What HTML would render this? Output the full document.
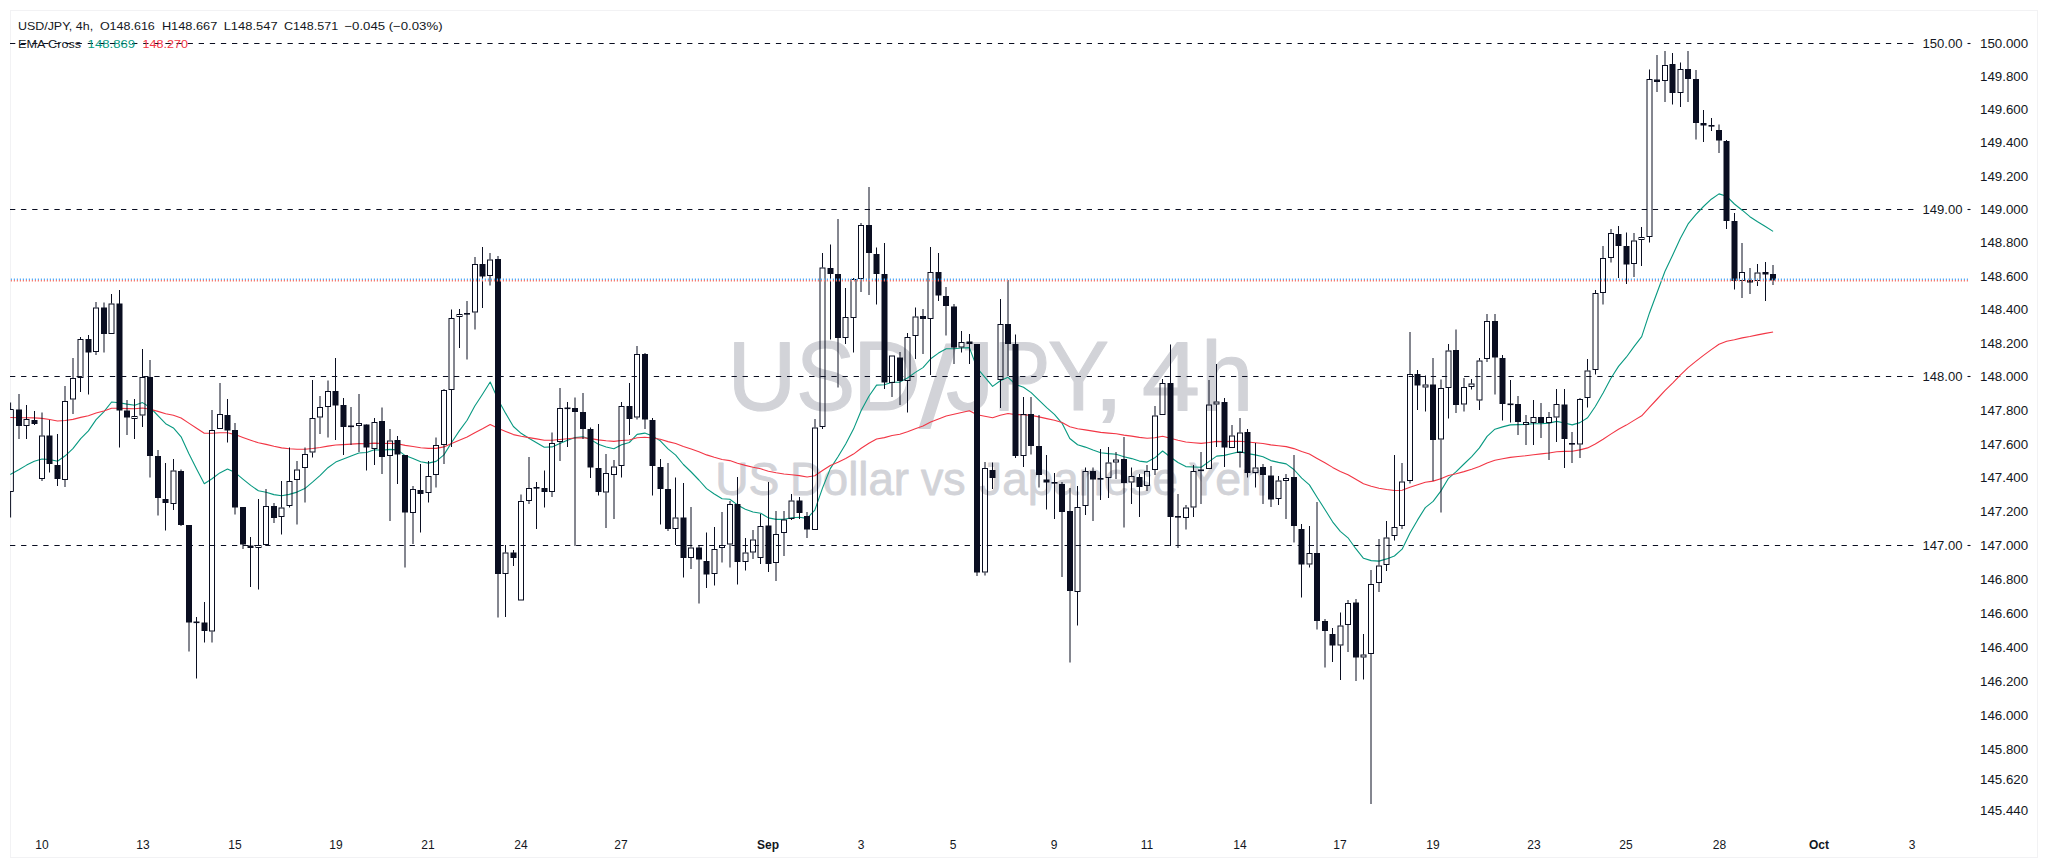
<!DOCTYPE html>
<html lang="en"><head><meta charset="utf-8"><title>USD/JPY 4h chart</title>
<style>html,body{margin:0;padding:0;background:#fff;}body{width:2048px;height:868px;overflow:hidden;}svg{display:block;}text{font-family:"Liberation Sans", Arial, Helvetica, sans-serif;}</style>
</head><body>
<svg width="2048" height="868" viewBox="0 0 2048 868">
<rect x="0" y="0" width="2048" height="868" fill="#ffffff"/>
<rect x="10.5" y="10.5" width="2027" height="847" fill="none" stroke="#f2f2f4" stroke-width="1"/>
<g fill="#d2d3d8" stroke="#d2d3d8" stroke-linejoin="round">
<text font-size="98.2" stroke-width="1.1" xml:space="preserve"><tspan x="727.35" y="410.2" textLength="69.43" lengthAdjust="spacingAndGlyphs">U</tspan><tspan x="795.89" y="410.2" textLength="59.18" lengthAdjust="spacingAndGlyphs">S</tspan><tspan x="853.11" y="410.2" textLength="68.16" lengthAdjust="spacingAndGlyphs">D</tspan><tspan x="919.17" y="427.2" font-size="115.3" textLength="37.35" lengthAdjust="spacingAndGlyphs">/</tspan><tspan x="946.01" y="410.2" textLength="48.49" lengthAdjust="spacingAndGlyphs">J</tspan><tspan x="992.97" y="410.2" textLength="57.59" lengthAdjust="spacingAndGlyphs">P</tspan><tspan x="1047.63" y="410.2" textLength="61.38" lengthAdjust="spacingAndGlyphs">Y</tspan><tspan x="1093.14" y="410.2" textLength="31.25" lengthAdjust="spacingAndGlyphs">,</tspan> <tspan x="1141.76" y="410.2" textLength="58.32" lengthAdjust="spacingAndGlyphs">4</tspan><tspan x="1200.71" y="410.2" textLength="52.70" lengthAdjust="spacingAndGlyphs">h</tspan></text>
<text font-size="46.8" stroke-width="0.8" xml:space="preserve"><tspan x="715.14" y="494.7" textLength="64.25" lengthAdjust="spacingAndGlyphs">US</tspan> <tspan x="789.88" y="494.7" textLength="119.15" lengthAdjust="spacingAndGlyphs">Dollar</tspan> <tspan x="920.90" y="494.7" textLength="44.66" lengthAdjust="spacingAndGlyphs">vs</tspan> <tspan x="979.30" y="494.7" textLength="198.63" lengthAdjust="spacingAndGlyphs">Japanese</tspan> <tspan x="1188.41" y="494.7" textLength="78.57" lengthAdjust="spacingAndGlyphs">Yen</tspan></text>
</g>
<line x1="10" y1="43.50" x2="1916.5" y2="43.50" stroke="#0a0e21" stroke-width="1.15" stroke-dasharray="5.3 5.8"/>
<line x1="1967.5" y1="43.50" x2="1970.5" y2="43.50" stroke="#0a0e21" stroke-width="1.1"/>
<text x="1962.5" y="47.90" font-size="12" text-anchor="end" fill="#131722" textLength="40" lengthAdjust="spacingAndGlyphs">150.00</text>
<line x1="10" y1="209.50" x2="1916.5" y2="209.50" stroke="#0a0e21" stroke-width="1.15" stroke-dasharray="5.3 5.8"/>
<line x1="1967.5" y1="209.50" x2="1970.5" y2="209.50" stroke="#0a0e21" stroke-width="1.1"/>
<text x="1962.5" y="213.90" font-size="12" text-anchor="end" fill="#131722" textLength="40" lengthAdjust="spacingAndGlyphs">149.00</text>
<line x1="10" y1="376.50" x2="1916.5" y2="376.50" stroke="#0a0e21" stroke-width="1.15" stroke-dasharray="5.3 5.8"/>
<line x1="1967.5" y1="376.50" x2="1970.5" y2="376.50" stroke="#0a0e21" stroke-width="1.1"/>
<text x="1962.5" y="380.90" font-size="12" text-anchor="end" fill="#131722" textLength="40" lengthAdjust="spacingAndGlyphs">148.00</text>
<line x1="10" y1="545.50" x2="1916.5" y2="545.50" stroke="#0a0e21" stroke-width="1.15" stroke-dasharray="5.3 5.8"/>
<line x1="1967.5" y1="545.50" x2="1970.5" y2="545.50" stroke="#0a0e21" stroke-width="1.1"/>
<text x="1962.5" y="549.90" font-size="12" text-anchor="end" fill="#131722" textLength="40" lengthAdjust="spacingAndGlyphs">147.00</text>
<polyline fill="none" stroke="#089981" stroke-width="1.1" stroke-linejoin="round" points="10.3,474.4 11.1,474.0 18.8,469.7 26.6,465.1 34.3,461.3 42.0,459.0 49.7,459.5 57.5,461.3 65.2,455.8 72.9,448.7 80.7,438.7 88.4,430.9 96.1,419.6 103.8,411.8 111.6,402.0 119.3,402.8 127.0,404.1 134.7,405.2 142.5,402.6 150.2,407.5 157.9,415.7 165.7,423.7 173.4,427.9 181.1,436.8 188.8,453.6 196.6,469.0 204.3,483.7 212.0,478.8 219.8,472.9 227.5,469.1 235.2,472.6 242.9,479.1 250.7,485.4 258.4,490.8 266.1,492.2 273.9,494.6 281.6,495.7 289.3,494.4 297.0,492.1 304.8,488.6 312.5,482.2 320.2,475.4 327.9,467.7 335.7,462.1 343.4,458.9 351.1,455.9 358.9,453.0 366.6,452.5 374.3,449.7 382.0,450.3 389.8,449.4 397.5,449.9 405.2,455.6 413.0,458.6 420.7,461.8 428.4,463.1 436.1,461.4 443.9,454.9 451.6,442.5 459.3,430.9 467.1,420.2 474.8,406.0 482.5,394.2 490.2,382.0 498.0,399.4 505.7,413.4 513.4,426.5 521.1,433.3 528.9,438.3 536.6,442.8 544.3,447.3 552.1,446.9 559.8,443.4 567.5,440.2 575.2,437.6 583.0,436.8 590.7,439.6 598.4,444.3 606.2,447.0 613.9,448.7 621.6,444.8 629.3,442.5 637.1,434.4 644.8,433.1 652.5,436.1 660.3,440.8 668.0,448.9 675.7,455.1 683.4,464.5 691.2,472.0 698.9,480.0 706.6,488.6 714.3,494.0 722.1,498.7 729.8,499.2 737.5,504.9 745.3,509.2 753.0,512.0 760.7,513.2 768.4,517.9 776.2,519.4 783.9,519.4 791.6,517.7 799.4,517.3 807.1,518.4 814.8,510.1 822.5,488.1 830.3,468.6 838.0,456.7 845.7,444.0 853.5,429.1 861.2,410.5 868.9,396.2 876.6,385.1 884.4,384.8 892.1,382.2 899.8,382.1 907.5,378.0 915.3,372.4 923.0,367.6 930.7,358.8 938.5,353.1 946.2,348.8 953.9,348.7 961.6,348.0 969.4,347.6 977.1,368.1 984.8,377.2 992.6,386.4 1000.3,380.7 1008.0,377.3 1015.7,384.5 1023.5,387.2 1031.2,392.6 1038.9,400.1 1046.7,407.6 1054.4,414.4 1062.1,423.3 1069.8,438.5 1077.6,444.7 1085.3,447.1 1093.0,450.1 1100.7,452.7 1108.5,453.6 1116.2,454.2 1123.9,456.8 1131.7,458.6 1139.4,461.1 1147.1,462.1 1154.8,457.8 1162.6,451.0 1170.3,457.0 1178.0,462.5 1185.8,466.6 1193.5,467.0 1201.2,467.3 1208.9,461.6 1216.7,456.1 1224.4,455.4 1232.1,453.5 1239.9,451.6 1247.6,453.6 1255.3,454.9 1263.0,456.7 1270.8,460.6 1278.5,462.4 1286.2,463.9 1293.9,469.5 1301.7,478.1 1309.4,484.9 1317.1,497.3 1324.9,509.5 1332.6,521.8 1340.3,531.3 1348.0,537.8 1355.8,548.7 1363.5,558.3 1371.2,560.6 1379.0,561.1 1386.7,558.9 1394.4,556.0 1402.1,549.2 1409.9,533.3 1417.6,519.9 1425.3,507.6 1433.1,501.4 1440.8,491.1 1448.5,478.3 1456.2,471.7 1464.0,464.0 1471.7,456.7 1479.4,447.9 1487.1,436.4 1494.9,429.2 1502.6,426.9 1510.3,424.9 1518.1,424.6 1525.8,424.4 1533.5,423.8 1541.2,423.7 1549.0,423.1 1556.7,421.4 1564.4,423.0 1572.2,424.9 1579.9,422.6 1587.6,417.8 1595.3,406.5 1603.1,393.0 1610.8,378.5 1618.5,366.4 1626.3,357.2 1634.0,346.6 1641.7,336.6 1649.4,313.2 1657.2,292.2 1664.9,271.5 1672.6,255.3 1680.3,238.4 1688.1,223.9 1695.8,214.7 1703.5,206.5 1711.3,199.2 1719.0,193.9 1726.7,196.3 1734.4,204.0 1742.2,210.2 1749.9,216.7 1757.6,221.7 1765.4,226.5 1773.1,231.4"/>
<polyline fill="none" stroke="#f23645" stroke-width="1.1" stroke-linejoin="round" points="10.3,417.5 11.1,417.5 18.8,417.7 26.6,417.8 34.3,417.9 42.0,418.4 49.7,419.5 57.5,421.0 65.2,420.5 72.9,419.4 80.7,417.4 88.4,415.8 96.1,413.0 103.8,411.0 111.6,408.3 119.3,408.3 127.0,408.6 134.7,408.8 142.5,408.0 150.2,409.2 157.9,411.4 165.7,413.8 173.4,415.2 181.1,418.0 188.8,423.1 196.6,428.2 204.3,433.3 212.0,433.2 219.8,432.8 227.5,432.7 235.2,434.6 242.9,437.4 250.7,440.2 258.4,442.8 266.1,444.4 273.9,446.3 281.6,447.9 289.3,448.7 297.0,449.2 304.8,449.3 312.5,448.5 320.2,447.5 327.9,446.1 335.7,445.0 343.4,444.6 351.1,444.1 358.9,443.6 366.6,443.7 374.3,443.1 382.0,443.5 389.8,443.4 397.5,443.7 405.2,445.4 413.0,446.5 420.7,447.7 428.4,448.4 436.1,448.4 443.9,446.9 451.6,443.6 459.3,440.3 467.1,437.1 474.8,432.8 482.5,428.8 490.2,424.5 498.0,428.3 505.7,431.4 513.4,434.6 521.1,436.3 528.9,437.6 536.6,438.9 544.3,440.3 552.1,440.3 559.8,439.5 567.5,438.7 575.2,438.0 583.0,437.8 590.7,438.6 598.4,439.9 606.2,440.8 613.9,441.4 621.6,440.5 629.3,440.0 637.1,437.8 644.8,437.3 652.5,438.0 660.3,439.3 668.0,441.6 675.7,443.5 683.4,446.4 691.2,449.0 698.9,451.8 706.6,454.9 714.3,457.3 722.1,459.5 729.8,460.6 737.5,463.2 745.3,465.4 753.0,467.3 760.7,468.8 768.4,471.2 776.2,472.8 783.9,474.0 791.6,474.7 799.4,475.6 807.1,477.0 814.8,475.8 822.5,470.5 830.3,465.5 838.0,462.3 845.7,458.6 853.5,454.1 861.2,448.3 868.9,443.3 876.6,439.0 884.4,437.6 892.1,435.5 899.8,434.2 907.5,431.7 915.3,428.8 923.0,426.0 930.7,422.1 938.5,418.9 946.2,416.0 953.9,414.3 961.6,412.5 969.4,410.7 977.1,414.8 984.8,416.2 992.6,417.7 1000.3,415.3 1008.0,413.5 1015.7,414.6 1023.5,414.6 1031.2,415.4 1038.9,416.9 1046.7,418.6 1054.4,420.2 1062.1,422.5 1069.8,426.8 1077.6,428.8 1085.3,429.9 1093.0,431.1 1100.7,432.4 1108.5,433.1 1116.2,433.8 1123.9,435.1 1131.7,436.1 1139.4,437.4 1147.1,438.2 1154.8,437.7 1162.6,436.3 1170.3,438.3 1178.0,440.3 1185.8,442.0 1193.5,442.7 1201.2,443.4 1208.9,442.5 1216.7,441.4 1224.4,441.6 1232.1,441.4 1239.9,441.2 1247.6,442.0 1255.3,442.7 1263.0,443.5 1270.8,444.9 1278.5,445.8 1286.2,446.6 1293.9,448.6 1301.7,451.6 1309.4,454.1 1317.1,458.4 1324.9,462.7 1332.6,467.4 1340.3,471.4 1348.0,474.7 1355.8,479.3 1363.5,483.8 1371.2,486.3 1379.0,488.3 1386.7,489.5 1394.4,490.5 1402.1,490.3 1409.9,487.3 1417.6,484.7 1425.3,482.2 1433.1,481.1 1440.8,478.8 1448.5,475.5 1456.2,473.7 1464.0,471.6 1471.7,469.3 1479.4,466.6 1487.1,462.9 1494.9,460.2 1502.6,458.8 1510.3,457.4 1518.1,456.5 1525.8,455.7 1533.5,454.7 1541.2,453.9 1549.0,453.0 1556.7,451.7 1564.4,451.4 1572.2,451.2 1579.9,449.9 1587.6,447.9 1595.3,444.0 1603.1,439.3 1610.8,434.1 1618.5,429.3 1626.3,425.1 1634.0,420.4 1641.7,415.8 1649.4,407.3 1657.2,399.0 1664.9,390.6 1672.6,383.1 1680.3,375.1 1688.1,367.6 1695.8,361.4 1703.5,355.4 1711.3,349.6 1719.0,344.3 1726.7,341.2 1734.4,339.7 1742.2,337.9 1749.9,336.5 1757.6,334.9 1765.4,333.4 1773.1,332.0"/>
<g stroke="#0a0e21" stroke-width="1">
<line x1="10.6" y1="491.50" x2="10.6" y2="517.50"/>
<line x1="10.6" y1="402.50" x2="10.6" y2="409.50"/>
<path d="M10 409.50 H13.4 V491.50 H10" fill="none"/>
<line x1="19.00" y1="394.00" x2="19.00" y2="439.00"/>
<rect x="16.50" y="410.00" width="5" height="15.50" fill="#0a0e21"/>
<line x1="26.50" y1="405.00" x2="26.50" y2="419.00"/>
<line x1="26.50" y1="426.00" x2="26.50" y2="439.00"/>
<rect x="24.00" y="419.50" width="5" height="6.00" fill="none"/>
<line x1="34.50" y1="411.00" x2="34.50" y2="425.00"/>
<rect x="32.00" y="420.50" width="5" height="3.00" fill="#0a0e21"/>
<line x1="42.00" y1="412.50" x2="42.00" y2="435.50"/>
<line x1="42.00" y1="479.00" x2="42.00" y2="481.00"/>
<rect x="39.50" y="436.00" width="5" height="42.50" fill="none"/>
<line x1="49.50" y1="420.00" x2="49.50" y2="472.50"/>
<rect x="47.00" y="436.00" width="5" height="27.50" fill="#0a0e21"/>
<line x1="57.50" y1="434.00" x2="57.50" y2="486.00"/>
<rect x="55.00" y="465.50" width="5" height="13.00" fill="#0a0e21"/>
<line x1="65.00" y1="386.00" x2="65.00" y2="401.00"/>
<line x1="65.00" y1="480.00" x2="65.00" y2="487.00"/>
<rect x="62.50" y="401.50" width="5" height="78.00" fill="none"/>
<line x1="73.00" y1="358.00" x2="73.00" y2="378.00"/>
<line x1="73.00" y1="399.50" x2="73.00" y2="414.00"/>
<rect x="70.50" y="378.50" width="5" height="20.50" fill="none"/>
<line x1="80.50" y1="337.00" x2="80.50" y2="339.00"/>
<line x1="80.50" y1="378.00" x2="80.50" y2="392.00"/>
<rect x="78.00" y="339.50" width="5" height="38.00" fill="none"/>
<line x1="88.50" y1="335.00" x2="88.50" y2="394.50"/>
<rect x="86.00" y="339.50" width="5" height="12.50" fill="#0a0e21"/>
<line x1="96.00" y1="302.00" x2="96.00" y2="307.50"/>
<line x1="96.00" y1="352.00" x2="96.00" y2="355.00"/>
<rect x="93.50" y="308.00" width="5" height="43.50" fill="none"/>
<line x1="104.00" y1="302.50" x2="104.00" y2="352.50"/>
<rect x="101.50" y="308.00" width="5" height="25.50" fill="#0a0e21"/>
<line x1="111.50" y1="294.00" x2="111.50" y2="303.50"/>
<rect x="109.00" y="304.00" width="5" height="29.50" fill="none"/>
<line x1="119.50" y1="290.00" x2="119.50" y2="447.50"/>
<rect x="117.00" y="304.00" width="5" height="106.00" fill="#0a0e21"/>
<line x1="127.00" y1="400.00" x2="127.00" y2="435.00"/>
<rect x="124.50" y="411.00" width="5" height="6.00" fill="#0a0e21"/>
<line x1="134.50" y1="399.00" x2="134.50" y2="416.00"/>
<line x1="134.50" y1="419.00" x2="134.50" y2="439.00"/>
<rect x="132.00" y="416.50" width="5" height="2.00" fill="none"/>
<line x1="142.50" y1="349.00" x2="142.50" y2="377.00"/>
<line x1="142.50" y1="415.50" x2="142.50" y2="427.00"/>
<rect x="140.00" y="377.50" width="5" height="37.50" fill="none"/>
<line x1="150.00" y1="360.00" x2="150.00" y2="477.50"/>
<rect x="147.50" y="377.50" width="5" height="78.00" fill="#0a0e21"/>
<line x1="158.00" y1="450.00" x2="158.00" y2="515.50"/>
<rect x="155.50" y="456.50" width="5" height="41.00" fill="#0a0e21"/>
<line x1="165.50" y1="463.00" x2="165.50" y2="530.50"/>
<rect x="163.00" y="499.50" width="5" height="3.00" fill="#0a0e21"/>
<line x1="173.50" y1="459.00" x2="173.50" y2="470.50"/>
<line x1="173.50" y1="504.00" x2="173.50" y2="510.00"/>
<rect x="171.00" y="471.00" width="5" height="32.50" fill="none"/>
<line x1="181.00" y1="469.50" x2="181.00" y2="526.00"/>
<rect x="178.50" y="471.50" width="5" height="53.00" fill="#0a0e21"/>
<line x1="189.00" y1="525.00" x2="189.00" y2="651.50"/>
<rect x="186.50" y="525.50" width="5" height="96.50" fill="#0a0e21"/>
<line x1="196.50" y1="617.00" x2="196.50" y2="678.50"/>
<rect x="194.00" y="622.00" width="5" height="0.60" fill="#0a0e21"/>
<line x1="204.50" y1="602.00" x2="204.50" y2="642.50"/>
<rect x="202.00" y="623.00" width="5" height="7.50" fill="#0a0e21"/>
<line x1="212.00" y1="410.00" x2="212.00" y2="430.00"/>
<line x1="212.00" y1="631.50" x2="212.00" y2="642.50"/>
<rect x="209.50" y="430.50" width="5" height="200.50" fill="none"/>
<line x1="220.00" y1="383.00" x2="220.00" y2="414.00"/>
<rect x="217.50" y="414.50" width="5" height="14.00" fill="none"/>
<line x1="227.50" y1="399.00" x2="227.50" y2="442.50"/>
<rect x="225.00" y="415.50" width="5" height="14.50" fill="#0a0e21"/>
<line x1="235.00" y1="423.00" x2="235.00" y2="514.50"/>
<rect x="232.50" y="430.50" width="5" height="76.50" fill="#0a0e21"/>
<line x1="243.00" y1="507.00" x2="243.00" y2="549.00"/>
<rect x="240.50" y="507.50" width="5" height="36.50" fill="#0a0e21"/>
<line x1="250.50" y1="537.00" x2="250.50" y2="587.00"/>
<rect x="248.00" y="546.00" width="5" height="1.50" fill="#0a0e21"/>
<line x1="258.50" y1="499.00" x2="258.50" y2="545.00"/>
<line x1="258.50" y1="548.00" x2="258.50" y2="589.50"/>
<rect x="256.00" y="545.50" width="5" height="2.00" fill="none"/>
<line x1="266.00" y1="489.00" x2="266.00" y2="506.00"/>
<rect x="263.50" y="506.50" width="5" height="38.00" fill="none"/>
<line x1="274.00" y1="503.00" x2="274.00" y2="523.00"/>
<rect x="271.50" y="506.50" width="5" height="11.00" fill="#0a0e21"/>
<line x1="281.50" y1="481.00" x2="281.50" y2="507.50"/>
<line x1="281.50" y1="517.00" x2="281.50" y2="534.50"/>
<rect x="279.00" y="508.00" width="5" height="8.50" fill="none"/>
<line x1="289.50" y1="447.50" x2="289.50" y2="481.00"/>
<line x1="289.50" y1="506.00" x2="289.50" y2="507.50"/>
<rect x="287.00" y="481.50" width="5" height="24.00" fill="none"/>
<line x1="297.00" y1="461.00" x2="297.00" y2="469.50"/>
<line x1="297.00" y1="480.00" x2="297.00" y2="524.50"/>
<rect x="294.50" y="470.00" width="5" height="9.50" fill="none"/>
<line x1="305.00" y1="447.50" x2="305.00" y2="454.00"/>
<line x1="305.00" y1="468.00" x2="305.00" y2="502.50"/>
<rect x="302.50" y="454.50" width="5" height="13.00" fill="none"/>
<line x1="312.50" y1="380.00" x2="312.50" y2="418.00"/>
<line x1="312.50" y1="452.50" x2="312.50" y2="457.50"/>
<rect x="310.00" y="418.50" width="5" height="33.50" fill="none"/>
<line x1="320.00" y1="396.00" x2="320.00" y2="407.00"/>
<line x1="320.00" y1="417.50" x2="320.00" y2="434.00"/>
<rect x="317.50" y="407.50" width="5" height="9.50" fill="none"/>
<line x1="328.00" y1="380.50" x2="328.00" y2="391.00"/>
<line x1="328.00" y1="407.00" x2="328.00" y2="437.50"/>
<rect x="325.50" y="391.50" width="5" height="15.00" fill="none"/>
<line x1="335.50" y1="358.00" x2="335.50" y2="440.00"/>
<rect x="333.00" y="391.50" width="5" height="13.50" fill="#0a0e21"/>
<line x1="343.50" y1="398.00" x2="343.50" y2="455.00"/>
<rect x="341.00" y="405.50" width="5" height="21.00" fill="#0a0e21"/>
<line x1="351.00" y1="407.00" x2="351.00" y2="445.00"/>
<rect x="348.50" y="426.00" width="5" height="0.60" fill="#0a0e21"/>
<line x1="359.00" y1="394.00" x2="359.00" y2="423.00"/>
<line x1="359.00" y1="426.00" x2="359.00" y2="452.00"/>
<rect x="356.50" y="423.50" width="5" height="2.00" fill="none"/>
<line x1="366.50" y1="424.50" x2="366.50" y2="470.50"/>
<rect x="364.00" y="425.00" width="5" height="22.00" fill="#0a0e21"/>
<line x1="374.50" y1="418.00" x2="374.50" y2="422.00"/>
<line x1="374.50" y1="449.00" x2="374.50" y2="465.00"/>
<rect x="372.00" y="422.50" width="5" height="26.00" fill="none"/>
<line x1="382.00" y1="407.50" x2="382.00" y2="474.00"/>
<rect x="379.50" y="421.50" width="5" height="35.00" fill="#0a0e21"/>
<line x1="390.00" y1="429.00" x2="390.00" y2="440.50"/>
<line x1="390.00" y1="456.00" x2="390.00" y2="521.00"/>
<rect x="387.50" y="441.00" width="5" height="14.50" fill="none"/>
<line x1="397.50" y1="436.00" x2="397.50" y2="484.00"/>
<rect x="395.00" y="440.50" width="5" height="13.50" fill="#0a0e21"/>
<line x1="405.00" y1="455.00" x2="405.00" y2="567.50"/>
<rect x="402.50" y="455.50" width="5" height="56.50" fill="#0a0e21"/>
<line x1="413.00" y1="486.00" x2="413.00" y2="489.00"/>
<line x1="413.00" y1="513.00" x2="413.00" y2="544.00"/>
<rect x="410.50" y="489.50" width="5" height="23.00" fill="none"/>
<line x1="420.50" y1="464.00" x2="420.50" y2="532.50"/>
<rect x="418.00" y="490.50" width="5" height="3.00" fill="#0a0e21"/>
<line x1="428.50" y1="461.00" x2="428.50" y2="476.00"/>
<line x1="428.50" y1="493.00" x2="428.50" y2="502.50"/>
<rect x="426.00" y="476.50" width="5" height="16.00" fill="none"/>
<line x1="436.00" y1="437.50" x2="436.00" y2="445.00"/>
<line x1="436.00" y1="475.00" x2="436.00" y2="487.50"/>
<rect x="433.50" y="445.50" width="5" height="29.00" fill="none"/>
<line x1="444.00" y1="389.00" x2="444.00" y2="390.00"/>
<line x1="444.00" y1="445.00" x2="444.00" y2="464.00"/>
<rect x="441.50" y="390.50" width="5" height="54.00" fill="none"/>
<line x1="451.50" y1="309.50" x2="451.50" y2="318.00"/>
<line x1="451.50" y1="390.00" x2="451.50" y2="447.00"/>
<rect x="449.00" y="318.50" width="5" height="71.00" fill="none"/>
<line x1="459.50" y1="309.00" x2="459.50" y2="314.00"/>
<line x1="459.50" y1="317.00" x2="459.50" y2="348.00"/>
<rect x="457.00" y="314.50" width="5" height="2.00" fill="none"/>
<line x1="467.00" y1="301.00" x2="467.00" y2="359.50"/>
<rect x="464.50" y="313.50" width="5" height="0.60" fill="#0a0e21"/>
<line x1="475.00" y1="257.00" x2="475.00" y2="264.00"/>
<line x1="475.00" y1="312.50" x2="475.00" y2="329.50"/>
<rect x="472.50" y="264.50" width="5" height="47.50" fill="none"/>
<line x1="482.50" y1="247.00" x2="482.50" y2="308.00"/>
<rect x="480.00" y="264.50" width="5" height="11.50" fill="#0a0e21"/>
<line x1="490.00" y1="253.00" x2="490.00" y2="259.50"/>
<line x1="490.00" y1="276.00" x2="490.00" y2="285.50"/>
<rect x="487.50" y="260.00" width="5" height="15.50" fill="none"/>
<line x1="498.00" y1="256.00" x2="498.00" y2="617.50"/>
<rect x="495.50" y="259.50" width="5" height="314.00" fill="#0a0e21"/>
<line x1="505.50" y1="545.00" x2="505.50" y2="552.50"/>
<line x1="505.50" y1="574.00" x2="505.50" y2="617.00"/>
<rect x="503.00" y="553.00" width="5" height="20.50" fill="none"/>
<line x1="513.50" y1="550.00" x2="513.50" y2="566.00"/>
<rect x="511.00" y="553.00" width="5" height="4.50" fill="#0a0e21"/>
<line x1="521.00" y1="494.50" x2="521.00" y2="501.00"/>
<rect x="518.50" y="501.50" width="5" height="98.50" fill="none"/>
<line x1="529.00" y1="457.00" x2="529.00" y2="488.00"/>
<line x1="529.00" y1="501.00" x2="529.00" y2="504.00"/>
<rect x="526.50" y="488.50" width="5" height="12.00" fill="none"/>
<line x1="536.50" y1="482.00" x2="536.50" y2="529.00"/>
<rect x="534.00" y="487.50" width="5" height="0.60" fill="#0a0e21"/>
<line x1="544.50" y1="470.50" x2="544.50" y2="507.50"/>
<rect x="542.00" y="488.50" width="5" height="3.00" fill="#0a0e21"/>
<line x1="552.00" y1="432.50" x2="552.00" y2="443.00"/>
<line x1="552.00" y1="492.00" x2="552.00" y2="497.00"/>
<rect x="549.50" y="443.50" width="5" height="48.00" fill="none"/>
<line x1="560.00" y1="388.00" x2="560.00" y2="408.00"/>
<line x1="560.00" y1="442.00" x2="560.00" y2="461.00"/>
<rect x="557.50" y="408.50" width="5" height="33.00" fill="none"/>
<line x1="567.50" y1="402.00" x2="567.50" y2="447.00"/>
<rect x="565.00" y="408.00" width="5" height="0.60" fill="#0a0e21"/>
<line x1="575.00" y1="397.50" x2="575.00" y2="546.00"/>
<rect x="572.50" y="408.50" width="5" height="3.00" fill="#0a0e21"/>
<line x1="583.00" y1="393.00" x2="583.00" y2="439.00"/>
<rect x="580.50" y="412.50" width="5" height="16.00" fill="#0a0e21"/>
<line x1="590.50" y1="427.50" x2="590.50" y2="478.00"/>
<rect x="588.00" y="429.50" width="5" height="37.50" fill="#0a0e21"/>
<line x1="598.50" y1="424.00" x2="598.50" y2="495.50"/>
<rect x="596.00" y="468.50" width="5" height="23.00" fill="#0a0e21"/>
<line x1="606.00" y1="454.00" x2="606.00" y2="473.00"/>
<line x1="606.00" y1="492.50" x2="606.00" y2="528.00"/>
<rect x="603.50" y="473.50" width="5" height="18.50" fill="none"/>
<line x1="614.00" y1="460.00" x2="614.00" y2="466.50"/>
<line x1="614.00" y1="475.00" x2="614.00" y2="519.00"/>
<rect x="611.50" y="467.00" width="5" height="7.50" fill="none"/>
<line x1="621.50" y1="402.00" x2="621.50" y2="406.00"/>
<line x1="621.50" y1="466.00" x2="621.50" y2="477.50"/>
<rect x="619.00" y="406.50" width="5" height="59.00" fill="none"/>
<line x1="629.50" y1="383.00" x2="629.50" y2="435.00"/>
<rect x="627.00" y="406.50" width="5" height="12.00" fill="#0a0e21"/>
<line x1="637.00" y1="346.00" x2="637.00" y2="354.00"/>
<line x1="637.00" y1="417.50" x2="637.00" y2="419.50"/>
<rect x="634.50" y="354.50" width="5" height="62.50" fill="none"/>
<line x1="645.00" y1="353.00" x2="645.00" y2="429.00"/>
<rect x="642.50" y="354.50" width="5" height="64.50" fill="#0a0e21"/>
<line x1="652.50" y1="418.00" x2="652.50" y2="495.50"/>
<rect x="650.00" y="420.50" width="5" height="45.00" fill="#0a0e21"/>
<line x1="660.50" y1="459.00" x2="660.50" y2="524.50"/>
<rect x="658.00" y="467.50" width="5" height="21.00" fill="#0a0e21"/>
<line x1="668.00" y1="463.00" x2="668.00" y2="531.00"/>
<rect x="665.50" y="489.50" width="5" height="39.00" fill="#0a0e21"/>
<line x1="675.50" y1="477.50" x2="675.50" y2="517.50"/>
<line x1="675.50" y1="529.00" x2="675.50" y2="545.00"/>
<rect x="673.00" y="518.00" width="5" height="10.50" fill="none"/>
<line x1="683.50" y1="483.00" x2="683.50" y2="577.50"/>
<rect x="681.00" y="518.00" width="5" height="39.50" fill="#0a0e21"/>
<line x1="691.00" y1="507.00" x2="691.00" y2="547.50"/>
<line x1="691.00" y1="558.00" x2="691.00" y2="569.00"/>
<rect x="688.50" y="548.00" width="5" height="9.50" fill="none"/>
<line x1="699.00" y1="545.00" x2="699.00" y2="603.50"/>
<rect x="696.50" y="548.00" width="5" height="11.00" fill="#0a0e21"/>
<line x1="706.50" y1="532.50" x2="706.50" y2="588.00"/>
<rect x="704.00" y="561.50" width="5" height="12.50" fill="#0a0e21"/>
<line x1="714.50" y1="527.00" x2="714.50" y2="549.00"/>
<line x1="714.50" y1="574.00" x2="714.50" y2="585.50"/>
<rect x="712.00" y="549.50" width="5" height="24.00" fill="none"/>
<line x1="722.00" y1="512.00" x2="722.00" y2="545.00"/>
<line x1="722.00" y1="548.00" x2="722.00" y2="562.50"/>
<rect x="719.50" y="545.50" width="5" height="2.00" fill="none"/>
<line x1="730.00" y1="501.00" x2="730.00" y2="504.00"/>
<line x1="730.00" y1="544.50" x2="730.00" y2="567.50"/>
<rect x="727.50" y="504.50" width="5" height="39.50" fill="none"/>
<line x1="737.50" y1="477.00" x2="737.50" y2="584.50"/>
<rect x="735.00" y="504.50" width="5" height="57.00" fill="#0a0e21"/>
<line x1="745.50" y1="538.00" x2="745.50" y2="552.50"/>
<line x1="745.50" y1="562.00" x2="745.50" y2="570.50"/>
<rect x="743.00" y="553.00" width="5" height="8.50" fill="none"/>
<line x1="753.00" y1="530.00" x2="753.00" y2="539.50"/>
<line x1="753.00" y1="552.50" x2="753.00" y2="559.00"/>
<rect x="750.50" y="540.00" width="5" height="12.00" fill="none"/>
<line x1="760.50" y1="514.00" x2="760.50" y2="526.00"/>
<line x1="760.50" y1="558.00" x2="760.50" y2="564.00"/>
<rect x="758.00" y="526.50" width="5" height="31.00" fill="none"/>
<line x1="768.50" y1="482.00" x2="768.50" y2="572.00"/>
<rect x="766.00" y="526.00" width="5" height="37.50" fill="#0a0e21"/>
<line x1="776.00" y1="511.00" x2="776.00" y2="534.00"/>
<line x1="776.00" y1="563.00" x2="776.00" y2="581.00"/>
<rect x="773.50" y="534.50" width="5" height="28.00" fill="none"/>
<line x1="784.00" y1="511.00" x2="784.00" y2="519.50"/>
<line x1="784.00" y1="533.00" x2="784.00" y2="556.00"/>
<rect x="781.50" y="520.00" width="5" height="12.50" fill="none"/>
<line x1="791.50" y1="494.00" x2="791.50" y2="500.50"/>
<line x1="791.50" y1="519.00" x2="791.50" y2="520.00"/>
<rect x="789.00" y="501.00" width="5" height="17.50" fill="none"/>
<line x1="799.50" y1="497.00" x2="799.50" y2="519.00"/>
<rect x="797.00" y="501.00" width="5" height="11.50" fill="#0a0e21"/>
<line x1="807.00" y1="512.00" x2="807.00" y2="538.00"/>
<rect x="804.50" y="516.50" width="5" height="12.50" fill="#0a0e21"/>
<line x1="815.00" y1="419.00" x2="815.00" y2="427.50"/>
<rect x="812.50" y="428.00" width="5" height="101.50" fill="none"/>
<line x1="822.50" y1="253.00" x2="822.50" y2="267.50"/>
<line x1="822.50" y1="427.00" x2="822.50" y2="429.00"/>
<rect x="820.00" y="268.00" width="5" height="158.50" fill="none"/>
<line x1="830.50" y1="244.50" x2="830.50" y2="339.50"/>
<rect x="828.00" y="268.50" width="5" height="5.00" fill="#0a0e21"/>
<line x1="838.00" y1="219.00" x2="838.00" y2="387.50"/>
<rect x="835.50" y="274.50" width="5" height="63.00" fill="#0a0e21"/>
<line x1="845.50" y1="288.00" x2="845.50" y2="317.00"/>
<line x1="845.50" y1="338.00" x2="845.50" y2="344.00"/>
<rect x="843.00" y="317.50" width="5" height="20.00" fill="none"/>
<line x1="853.50" y1="278.00" x2="853.50" y2="279.00"/>
<line x1="853.50" y1="318.00" x2="853.50" y2="352.50"/>
<rect x="851.00" y="279.50" width="5" height="38.00" fill="none"/>
<line x1="861.00" y1="223.00" x2="861.00" y2="225.00"/>
<line x1="861.00" y1="279.00" x2="861.00" y2="292.00"/>
<rect x="858.50" y="225.50" width="5" height="53.00" fill="none"/>
<line x1="869.00" y1="187.00" x2="869.00" y2="295.00"/>
<rect x="866.50" y="225.50" width="5" height="27.00" fill="#0a0e21"/>
<line x1="876.50" y1="247.50" x2="876.50" y2="304.50"/>
<rect x="874.00" y="254.50" width="5" height="19.00" fill="#0a0e21"/>
<line x1="884.50" y1="243.00" x2="884.50" y2="389.00"/>
<rect x="882.00" y="274.50" width="5" height="107.50" fill="#0a0e21"/>
<line x1="892.00" y1="383.00" x2="892.00" y2="397.00"/>
<rect x="889.50" y="356.00" width="5" height="26.50" fill="none"/>
<line x1="900.00" y1="352.00" x2="900.00" y2="405.00"/>
<rect x="897.50" y="358.00" width="5" height="22.50" fill="#0a0e21"/>
<line x1="907.50" y1="333.00" x2="907.50" y2="337.00"/>
<line x1="907.50" y1="381.00" x2="907.50" y2="412.50"/>
<rect x="905.00" y="337.50" width="5" height="43.00" fill="none"/>
<line x1="915.50" y1="307.50" x2="915.50" y2="316.50"/>
<line x1="915.50" y1="336.00" x2="915.50" y2="359.00"/>
<rect x="913.00" y="317.00" width="5" height="18.50" fill="none"/>
<line x1="923.00" y1="309.00" x2="923.00" y2="354.00"/>
<rect x="920.50" y="316.50" width="5" height="2.00" fill="#0a0e21"/>
<line x1="930.50" y1="247.00" x2="930.50" y2="272.00"/>
<line x1="930.50" y1="319.00" x2="930.50" y2="375.00"/>
<rect x="928.00" y="272.50" width="5" height="46.00" fill="none"/>
<line x1="938.50" y1="253.00" x2="938.50" y2="301.00"/>
<rect x="936.00" y="272.50" width="5" height="22.50" fill="#0a0e21"/>
<line x1="946.00" y1="287.00" x2="946.00" y2="335.50"/>
<rect x="943.50" y="296.50" width="5" height="9.00" fill="#0a0e21"/>
<line x1="954.00" y1="304.00" x2="954.00" y2="364.00"/>
<rect x="951.50" y="307.00" width="5" height="40.00" fill="#0a0e21"/>
<line x1="961.50" y1="331.00" x2="961.50" y2="342.00"/>
<line x1="961.50" y1="347.50" x2="961.50" y2="352.50"/>
<rect x="959.00" y="342.50" width="5" height="4.50" fill="none"/>
<line x1="969.50" y1="334.00" x2="969.50" y2="364.00"/>
<rect x="967.00" y="342.00" width="5" height="1.50" fill="#0a0e21"/>
<line x1="977.00" y1="344.00" x2="977.00" y2="576.00"/>
<rect x="974.50" y="344.50" width="5" height="227.50" fill="#0a0e21"/>
<line x1="985.00" y1="462.00" x2="985.00" y2="468.00"/>
<line x1="985.00" y1="572.50" x2="985.00" y2="575.50"/>
<rect x="982.50" y="468.50" width="5" height="103.50" fill="none"/>
<line x1="992.50" y1="462.50" x2="992.50" y2="489.00"/>
<rect x="990.00" y="470.50" width="5" height="7.00" fill="#0a0e21"/>
<line x1="1000.50" y1="299.00" x2="1000.50" y2="324.00"/>
<line x1="1000.50" y1="380.00" x2="1000.50" y2="408.00"/>
<rect x="998.00" y="324.50" width="5" height="55.00" fill="none"/>
<line x1="1008.00" y1="280.00" x2="1008.00" y2="376.00"/>
<rect x="1005.50" y="324.50" width="5" height="19.00" fill="#0a0e21"/>
<line x1="1015.50" y1="334.50" x2="1015.50" y2="458.00"/>
<rect x="1013.00" y="344.50" width="5" height="111.00" fill="#0a0e21"/>
<line x1="1023.50" y1="397.00" x2="1023.50" y2="414.00"/>
<line x1="1023.50" y1="456.00" x2="1023.50" y2="467.00"/>
<rect x="1021.00" y="414.50" width="5" height="41.00" fill="none"/>
<line x1="1031.00" y1="397.00" x2="1031.00" y2="454.50"/>
<rect x="1028.50" y="414.50" width="5" height="31.00" fill="#0a0e21"/>
<line x1="1039.00" y1="415.00" x2="1039.00" y2="487.50"/>
<rect x="1036.50" y="446.50" width="5" height="28.00" fill="#0a0e21"/>
<line x1="1046.50" y1="455.00" x2="1046.50" y2="509.50"/>
<rect x="1044.00" y="480.00" width="5" height="2.00" fill="#0a0e21"/>
<line x1="1054.50" y1="473.00" x2="1054.50" y2="519.00"/>
<rect x="1052.00" y="482.50" width="5" height="0.60" fill="#0a0e21"/>
<line x1="1062.00" y1="482.00" x2="1062.00" y2="577.00"/>
<rect x="1059.50" y="484.50" width="5" height="27.00" fill="#0a0e21"/>
<line x1="1070.00" y1="488.00" x2="1070.00" y2="662.50"/>
<rect x="1067.50" y="511.50" width="5" height="79.00" fill="#0a0e21"/>
<line x1="1077.50" y1="486.00" x2="1077.50" y2="507.00"/>
<line x1="1077.50" y1="592.00" x2="1077.50" y2="625.50"/>
<rect x="1075.00" y="507.50" width="5" height="84.00" fill="none"/>
<line x1="1085.50" y1="467.50" x2="1085.50" y2="471.00"/>
<line x1="1085.50" y1="506.00" x2="1085.50" y2="515.00"/>
<rect x="1083.00" y="471.50" width="5" height="34.00" fill="none"/>
<line x1="1093.00" y1="467.50" x2="1093.00" y2="521.00"/>
<rect x="1090.50" y="471.50" width="5" height="7.50" fill="#0a0e21"/>
<line x1="1100.50" y1="449.00" x2="1100.50" y2="500.00"/>
<rect x="1098.00" y="478.50" width="5" height="0.60" fill="#0a0e21"/>
<line x1="1108.50" y1="447.00" x2="1108.50" y2="462.50"/>
<line x1="1108.50" y1="478.00" x2="1108.50" y2="498.00"/>
<rect x="1106.00" y="463.00" width="5" height="14.50" fill="none"/>
<line x1="1116.00" y1="452.00" x2="1116.00" y2="459.50"/>
<line x1="1116.00" y1="462.50" x2="1116.00" y2="479.00"/>
<rect x="1113.50" y="460.00" width="5" height="2.00" fill="none"/>
<line x1="1124.00" y1="437.00" x2="1124.00" y2="527.50"/>
<rect x="1121.50" y="459.50" width="5" height="23.00" fill="#0a0e21"/>
<line x1="1131.50" y1="467.50" x2="1131.50" y2="476.00"/>
<line x1="1131.50" y1="482.50" x2="1131.50" y2="504.00"/>
<rect x="1129.00" y="476.50" width="5" height="5.50" fill="none"/>
<line x1="1139.50" y1="474.00" x2="1139.50" y2="517.00"/>
<rect x="1137.00" y="477.50" width="5" height="9.00" fill="#0a0e21"/>
<line x1="1147.00" y1="465.00" x2="1147.00" y2="471.00"/>
<line x1="1147.00" y1="486.00" x2="1147.00" y2="491.00"/>
<rect x="1144.50" y="471.50" width="5" height="14.00" fill="none"/>
<line x1="1155.00" y1="406.00" x2="1155.00" y2="415.50"/>
<line x1="1155.00" y1="470.00" x2="1155.00" y2="475.00"/>
<rect x="1152.50" y="416.00" width="5" height="53.50" fill="none"/>
<line x1="1162.50" y1="379.00" x2="1162.50" y2="383.00"/>
<rect x="1160.00" y="383.50" width="5" height="31.00" fill="none"/>
<line x1="1170.50" y1="344.50" x2="1170.50" y2="546.00"/>
<rect x="1168.00" y="383.50" width="5" height="133.00" fill="#0a0e21"/>
<line x1="1178.00" y1="494.00" x2="1178.00" y2="548.00"/>
<rect x="1175.50" y="516.50" width="5" height="0.60" fill="#0a0e21"/>
<line x1="1186.00" y1="505.00" x2="1186.00" y2="507.50"/>
<line x1="1186.00" y1="518.00" x2="1186.00" y2="529.50"/>
<rect x="1183.50" y="508.00" width="5" height="9.50" fill="none"/>
<line x1="1193.50" y1="465.00" x2="1193.50" y2="471.00"/>
<line x1="1193.50" y1="507.50" x2="1193.50" y2="517.00"/>
<rect x="1191.00" y="471.50" width="5" height="35.50" fill="none"/>
<line x1="1201.00" y1="452.00" x2="1201.00" y2="504.00"/>
<rect x="1198.50" y="470.00" width="5" height="0.60" fill="#0a0e21"/>
<line x1="1209.00" y1="380.00" x2="1209.00" y2="404.50"/>
<rect x="1206.50" y="405.00" width="5" height="63.50" fill="none"/>
<line x1="1216.50" y1="364.00" x2="1216.50" y2="401.50"/>
<line x1="1216.50" y1="404.50" x2="1216.50" y2="447.00"/>
<rect x="1214.00" y="402.00" width="5" height="2.00" fill="none"/>
<line x1="1224.50" y1="398.00" x2="1224.50" y2="467.00"/>
<rect x="1222.00" y="402.50" width="5" height="44.50" fill="#0a0e21"/>
<line x1="1232.00" y1="425.00" x2="1232.00" y2="435.50"/>
<rect x="1229.50" y="436.00" width="5" height="11.50" fill="none"/>
<line x1="1240.00" y1="418.00" x2="1240.00" y2="432.50"/>
<line x1="1240.00" y1="453.00" x2="1240.00" y2="467.50"/>
<rect x="1237.50" y="433.00" width="5" height="19.50" fill="none"/>
<line x1="1247.50" y1="429.00" x2="1247.50" y2="477.50"/>
<rect x="1245.00" y="432.50" width="5" height="40.00" fill="#0a0e21"/>
<line x1="1255.50" y1="443.00" x2="1255.50" y2="467.50"/>
<line x1="1255.50" y1="473.00" x2="1255.50" y2="487.50"/>
<rect x="1253.00" y="468.00" width="5" height="4.50" fill="none"/>
<line x1="1263.00" y1="464.00" x2="1263.00" y2="504.00"/>
<rect x="1260.50" y="467.50" width="5" height="7.00" fill="#0a0e21"/>
<line x1="1271.00" y1="466.00" x2="1271.00" y2="507.00"/>
<rect x="1268.50" y="476.00" width="5" height="23.00" fill="#0a0e21"/>
<line x1="1278.50" y1="476.00" x2="1278.50" y2="480.50"/>
<line x1="1278.50" y1="499.00" x2="1278.50" y2="505.00"/>
<rect x="1276.00" y="481.00" width="5" height="17.50" fill="none"/>
<line x1="1286.00" y1="474.00" x2="1286.00" y2="478.00"/>
<line x1="1286.00" y1="481.00" x2="1286.00" y2="519.00"/>
<rect x="1283.50" y="478.50" width="5" height="2.00" fill="none"/>
<line x1="1294.00" y1="455.00" x2="1294.00" y2="542.50"/>
<rect x="1291.50" y="477.50" width="5" height="48.00" fill="#0a0e21"/>
<line x1="1301.50" y1="524.00" x2="1301.50" y2="597.50"/>
<rect x="1299.00" y="529.50" width="5" height="34.50" fill="#0a0e21"/>
<line x1="1309.50" y1="526.00" x2="1309.50" y2="553.00"/>
<line x1="1309.50" y1="564.50" x2="1309.50" y2="567.50"/>
<rect x="1307.00" y="553.50" width="5" height="10.50" fill="none"/>
<line x1="1317.00" y1="502.00" x2="1317.00" y2="629.50"/>
<rect x="1314.50" y="553.50" width="5" height="67.00" fill="#0a0e21"/>
<line x1="1325.00" y1="619.00" x2="1325.00" y2="667.50"/>
<rect x="1322.50" y="621.50" width="5" height="9.00" fill="#0a0e21"/>
<line x1="1332.50" y1="628.00" x2="1332.50" y2="662.00"/>
<rect x="1330.00" y="634.50" width="5" height="10.50" fill="#0a0e21"/>
<line x1="1340.50" y1="612.50" x2="1340.50" y2="625.50"/>
<line x1="1340.50" y1="645.50" x2="1340.50" y2="680.00"/>
<rect x="1338.00" y="626.00" width="5" height="19.00" fill="none"/>
<line x1="1348.00" y1="600.00" x2="1348.00" y2="603.00"/>
<line x1="1348.00" y1="625.00" x2="1348.00" y2="652.00"/>
<rect x="1345.50" y="603.50" width="5" height="21.00" fill="none"/>
<line x1="1356.00" y1="599.00" x2="1356.00" y2="681.00"/>
<rect x="1353.50" y="603.00" width="5" height="54.00" fill="#0a0e21"/>
<line x1="1363.50" y1="634.00" x2="1363.50" y2="654.50"/>
<line x1="1363.50" y1="657.50" x2="1363.50" y2="679.50"/>
<rect x="1361.00" y="655.00" width="5" height="2.00" fill="none"/>
<line x1="1371.00" y1="570.00" x2="1371.00" y2="584.00"/>
<line x1="1371.00" y1="654.00" x2="1371.00" y2="804.00"/>
<rect x="1368.50" y="584.50" width="5" height="69.00" fill="none"/>
<line x1="1379.00" y1="539.00" x2="1379.00" y2="565.50"/>
<line x1="1379.00" y1="583.00" x2="1379.00" y2="592.00"/>
<rect x="1376.50" y="566.00" width="5" height="16.50" fill="none"/>
<line x1="1386.50" y1="521.00" x2="1386.50" y2="537.50"/>
<line x1="1386.50" y1="565.00" x2="1386.50" y2="571.00"/>
<rect x="1384.00" y="538.00" width="5" height="26.50" fill="none"/>
<line x1="1394.50" y1="455.00" x2="1394.50" y2="527.00"/>
<line x1="1394.50" y1="536.00" x2="1394.50" y2="540.50"/>
<rect x="1392.00" y="527.50" width="5" height="8.00" fill="none"/>
<line x1="1402.00" y1="463.00" x2="1402.00" y2="481.50"/>
<line x1="1402.00" y1="526.00" x2="1402.00" y2="529.00"/>
<rect x="1399.50" y="482.00" width="5" height="43.50" fill="none"/>
<line x1="1410.00" y1="332.00" x2="1410.00" y2="374.00"/>
<line x1="1410.00" y1="481.00" x2="1410.00" y2="483.50"/>
<rect x="1407.50" y="374.50" width="5" height="106.00" fill="none"/>
<line x1="1417.50" y1="370.00" x2="1417.50" y2="410.00"/>
<rect x="1415.00" y="374.50" width="5" height="10.50" fill="#0a0e21"/>
<line x1="1425.50" y1="375.50" x2="1425.50" y2="384.50"/>
<line x1="1425.50" y1="387.50" x2="1425.50" y2="411.50"/>
<rect x="1423.00" y="385.00" width="5" height="2.00" fill="none"/>
<line x1="1433.00" y1="358.00" x2="1433.00" y2="481.00"/>
<rect x="1430.50" y="385.00" width="5" height="54.50" fill="#0a0e21"/>
<line x1="1441.00" y1="379.50" x2="1441.00" y2="388.00"/>
<line x1="1441.00" y1="439.50" x2="1441.00" y2="512.50"/>
<rect x="1438.50" y="388.50" width="5" height="50.50" fill="none"/>
<line x1="1448.50" y1="344.00" x2="1448.50" y2="350.50"/>
<line x1="1448.50" y1="388.00" x2="1448.50" y2="418.50"/>
<rect x="1446.00" y="351.00" width="5" height="36.50" fill="none"/>
<line x1="1456.00" y1="329.50" x2="1456.00" y2="413.00"/>
<rect x="1453.50" y="350.50" width="5" height="54.00" fill="#0a0e21"/>
<line x1="1464.00" y1="378.00" x2="1464.00" y2="387.00"/>
<line x1="1464.00" y1="404.50" x2="1464.00" y2="411.50"/>
<rect x="1461.50" y="387.50" width="5" height="16.50" fill="none"/>
<line x1="1471.50" y1="379.00" x2="1471.50" y2="383.50"/>
<line x1="1471.50" y1="387.00" x2="1471.50" y2="389.50"/>
<rect x="1469.00" y="384.00" width="5" height="2.50" fill="none"/>
<line x1="1479.50" y1="358.00" x2="1479.50" y2="360.50"/>
<line x1="1479.50" y1="400.50" x2="1479.50" y2="410.00"/>
<rect x="1477.00" y="361.00" width="5" height="39.00" fill="none"/>
<line x1="1487.00" y1="314.00" x2="1487.00" y2="321.00"/>
<line x1="1487.00" y1="359.00" x2="1487.00" y2="362.00"/>
<rect x="1484.50" y="321.50" width="5" height="37.00" fill="none"/>
<line x1="1495.00" y1="314.00" x2="1495.00" y2="394.50"/>
<rect x="1492.50" y="321.50" width="5" height="35.50" fill="#0a0e21"/>
<line x1="1502.50" y1="355.00" x2="1502.50" y2="420.50"/>
<rect x="1500.00" y="358.50" width="5" height="45.00" fill="#0a0e21"/>
<line x1="1510.50" y1="380.00" x2="1510.50" y2="422.50"/>
<rect x="1508.00" y="404.00" width="5" height="0.60" fill="#0a0e21"/>
<line x1="1518.00" y1="396.00" x2="1518.00" y2="435.00"/>
<rect x="1515.50" y="404.50" width="5" height="17.00" fill="#0a0e21"/>
<line x1="1526.00" y1="415.00" x2="1526.00" y2="422.00"/>
<line x1="1526.00" y1="425.00" x2="1526.00" y2="445.00"/>
<rect x="1523.50" y="422.50" width="5" height="2.00" fill="none"/>
<line x1="1533.50" y1="400.00" x2="1533.50" y2="417.00"/>
<line x1="1533.50" y1="423.00" x2="1533.50" y2="445.00"/>
<rect x="1531.00" y="417.50" width="5" height="5.00" fill="none"/>
<line x1="1541.00" y1="403.00" x2="1541.00" y2="438.00"/>
<rect x="1538.50" y="417.50" width="5" height="5.00" fill="#0a0e21"/>
<line x1="1549.00" y1="412.00" x2="1549.00" y2="417.00"/>
<line x1="1549.00" y1="423.00" x2="1549.00" y2="460.00"/>
<rect x="1546.50" y="417.50" width="5" height="5.00" fill="none"/>
<line x1="1556.50" y1="389.00" x2="1556.50" y2="404.00"/>
<line x1="1556.50" y1="417.50" x2="1556.50" y2="442.00"/>
<rect x="1554.00" y="404.50" width="5" height="12.50" fill="none"/>
<line x1="1564.50" y1="389.00" x2="1564.50" y2="468.00"/>
<rect x="1562.00" y="405.00" width="5" height="33.50" fill="#0a0e21"/>
<line x1="1572.00" y1="432.00" x2="1572.00" y2="463.00"/>
<rect x="1569.50" y="443.50" width="5" height="0.60" fill="#0a0e21"/>
<line x1="1580.00" y1="398.00" x2="1580.00" y2="399.00"/>
<line x1="1580.00" y1="444.50" x2="1580.00" y2="458.00"/>
<rect x="1577.50" y="399.50" width="5" height="44.50" fill="none"/>
<line x1="1587.50" y1="359.00" x2="1587.50" y2="370.50"/>
<line x1="1587.50" y1="398.00" x2="1587.50" y2="407.50"/>
<rect x="1585.00" y="371.00" width="5" height="26.50" fill="none"/>
<line x1="1595.50" y1="290.00" x2="1595.50" y2="293.00"/>
<line x1="1595.50" y1="370.00" x2="1595.50" y2="374.50"/>
<rect x="1593.00" y="293.50" width="5" height="76.00" fill="none"/>
<line x1="1603.00" y1="246.00" x2="1603.00" y2="258.00"/>
<line x1="1603.00" y1="293.00" x2="1603.00" y2="304.50"/>
<rect x="1600.50" y="258.50" width="5" height="34.00" fill="none"/>
<line x1="1611.00" y1="229.00" x2="1611.00" y2="233.00"/>
<line x1="1611.00" y1="258.00" x2="1611.00" y2="262.50"/>
<rect x="1608.50" y="233.50" width="5" height="24.00" fill="none"/>
<line x1="1618.50" y1="226.00" x2="1618.50" y2="278.00"/>
<rect x="1616.00" y="234.50" width="5" height="11.00" fill="#0a0e21"/>
<line x1="1626.50" y1="232.50" x2="1626.50" y2="284.00"/>
<rect x="1624.00" y="246.50" width="5" height="17.50" fill="#0a0e21"/>
<line x1="1634.00" y1="233.00" x2="1634.00" y2="240.50"/>
<line x1="1634.00" y1="264.00" x2="1634.00" y2="277.00"/>
<rect x="1631.50" y="241.00" width="5" height="22.50" fill="none"/>
<line x1="1641.50" y1="227.00" x2="1641.50" y2="237.00"/>
<line x1="1641.50" y1="240.00" x2="1641.50" y2="266.00"/>
<rect x="1639.00" y="237.50" width="5" height="2.00" fill="none"/>
<line x1="1649.50" y1="69.50" x2="1649.50" y2="79.00"/>
<line x1="1649.50" y1="237.00" x2="1649.50" y2="242.50"/>
<rect x="1647.00" y="79.50" width="5" height="157.00" fill="none"/>
<line x1="1657.00" y1="55.00" x2="1657.00" y2="92.00"/>
<rect x="1654.50" y="80.00" width="5" height="1.50" fill="#0a0e21"/>
<line x1="1665.00" y1="51.00" x2="1665.00" y2="65.00"/>
<line x1="1665.00" y1="81.00" x2="1665.00" y2="102.00"/>
<rect x="1662.50" y="65.50" width="5" height="15.00" fill="none"/>
<line x1="1672.50" y1="53.00" x2="1672.50" y2="104.50"/>
<rect x="1670.00" y="64.50" width="5" height="28.00" fill="#0a0e21"/>
<line x1="1680.50" y1="62.50" x2="1680.50" y2="69.00"/>
<line x1="1680.50" y1="93.00" x2="1680.50" y2="107.00"/>
<rect x="1678.00" y="69.50" width="5" height="23.00" fill="none"/>
<line x1="1688.00" y1="51.00" x2="1688.00" y2="102.00"/>
<rect x="1685.50" y="69.50" width="5" height="9.00" fill="#0a0e21"/>
<line x1="1696.00" y1="70.00" x2="1696.00" y2="139.50"/>
<rect x="1693.50" y="79.50" width="5" height="43.00" fill="#0a0e21"/>
<line x1="1703.50" y1="110.00" x2="1703.50" y2="142.00"/>
<rect x="1701.00" y="123.50" width="5" height="1.50" fill="#0a0e21"/>
<line x1="1711.50" y1="118.00" x2="1711.50" y2="131.00"/>
<rect x="1709.00" y="125.50" width="5" height="0.60" fill="#0a0e21"/>
<line x1="1719.00" y1="124.50" x2="1719.00" y2="153.00"/>
<rect x="1716.50" y="130.50" width="5" height="9.50" fill="#0a0e21"/>
<line x1="1726.50" y1="140.00" x2="1726.50" y2="229.00"/>
<rect x="1724.00" y="141.50" width="5" height="79.00" fill="#0a0e21"/>
<line x1="1734.50" y1="213.00" x2="1734.50" y2="289.50"/>
<rect x="1732.00" y="221.50" width="5" height="59.00" fill="#0a0e21"/>
<line x1="1742.00" y1="243.00" x2="1742.00" y2="272.00"/>
<line x1="1742.00" y1="281.00" x2="1742.00" y2="298.00"/>
<rect x="1739.50" y="272.50" width="5" height="8.00" fill="none"/>
<line x1="1750.00" y1="268.00" x2="1750.00" y2="294.00"/>
<rect x="1747.50" y="280.50" width="5" height="1.50" fill="#0a0e21"/>
<line x1="1757.50" y1="264.00" x2="1757.50" y2="272.50"/>
<line x1="1757.50" y1="281.00" x2="1757.50" y2="286.00"/>
<rect x="1755.00" y="273.00" width="5" height="7.50" fill="none"/>
<line x1="1765.50" y1="262.00" x2="1765.50" y2="301.00"/>
<rect x="1763.00" y="272.50" width="5" height="1.50" fill="#0a0e21"/>
<line x1="1773.00" y1="265.00" x2="1773.00" y2="285.00"/>
<rect x="1770.50" y="274.50" width="5" height="5.50" fill="#0a0e21"/>
</g>
<line x1="10.8" y1="279.25" x2="1969.2" y2="279.25" stroke="#58acf7" stroke-width="1.5" stroke-dasharray="1.2 1.8"/>
<line x1="10.8" y1="280.8" x2="1969.2" y2="280.8" stroke="#f47a70" stroke-width="1.5" stroke-dasharray="1.2 1.8"/>
<g font-size="12" fill="#131722">
<text x="1980" y="47.60" textLength="48.2" lengthAdjust="spacingAndGlyphs">150.000</text>
<text x="1980" y="80.77" textLength="48.2" lengthAdjust="spacingAndGlyphs">149.800</text>
<text x="1980" y="113.99" textLength="48.2" lengthAdjust="spacingAndGlyphs">149.600</text>
<text x="1980" y="147.26" textLength="48.2" lengthAdjust="spacingAndGlyphs">149.400</text>
<text x="1980" y="180.56" textLength="48.2" lengthAdjust="spacingAndGlyphs">149.200</text>
<text x="1980" y="213.92" textLength="48.2" lengthAdjust="spacingAndGlyphs">149.000</text>
<text x="1980" y="247.31" textLength="48.2" lengthAdjust="spacingAndGlyphs">148.800</text>
<text x="1980" y="280.75" textLength="48.2" lengthAdjust="spacingAndGlyphs">148.600</text>
<text x="1980" y="314.24" textLength="48.2" lengthAdjust="spacingAndGlyphs">148.400</text>
<text x="1980" y="347.77" textLength="48.2" lengthAdjust="spacingAndGlyphs">148.200</text>
<text x="1980" y="381.35" textLength="48.2" lengthAdjust="spacingAndGlyphs">148.000</text>
<text x="1980" y="414.97" textLength="48.2" lengthAdjust="spacingAndGlyphs">147.800</text>
<text x="1980" y="448.64" textLength="48.2" lengthAdjust="spacingAndGlyphs">147.600</text>
<text x="1980" y="482.35" textLength="48.2" lengthAdjust="spacingAndGlyphs">147.400</text>
<text x="1980" y="516.11" textLength="48.2" lengthAdjust="spacingAndGlyphs">147.200</text>
<text x="1980" y="549.92" textLength="48.2" lengthAdjust="spacingAndGlyphs">147.000</text>
<text x="1980" y="583.77" textLength="48.2" lengthAdjust="spacingAndGlyphs">146.800</text>
<text x="1980" y="617.67" textLength="48.2" lengthAdjust="spacingAndGlyphs">146.600</text>
<text x="1980" y="651.61" textLength="48.2" lengthAdjust="spacingAndGlyphs">146.400</text>
<text x="1980" y="685.60" textLength="48.2" lengthAdjust="spacingAndGlyphs">146.200</text>
<text x="1980" y="719.64" textLength="48.2" lengthAdjust="spacingAndGlyphs">146.000</text>
<text x="1980" y="753.72" textLength="48.2" lengthAdjust="spacingAndGlyphs">145.800</text>
<text x="1980" y="784.44" textLength="48.2" lengthAdjust="spacingAndGlyphs">145.620</text>
<text x="1980" y="815.19" textLength="48.2" lengthAdjust="spacingAndGlyphs">145.440</text>
</g>
<g font-size="12" fill="#131722" text-anchor="middle">
<text x="42.0" y="849.4">10</text>
<text x="143.0" y="849.4">13</text>
<text x="235.0" y="849.4">15</text>
<text x="336.0" y="849.4">19</text>
<text x="428.0" y="849.4">21</text>
<text x="521.0" y="849.4">24</text>
<text x="621.0" y="849.4">27</text>
<text x="768.0" y="849.4" font-weight="bold">Sep</text>
<text x="861.0" y="849.4">3</text>
<text x="953.0" y="849.4">5</text>
<text x="1054.0" y="849.4">9</text>
<text x="1147.0" y="849.4">11</text>
<text x="1240.0" y="849.4">14</text>
<text x="1340.0" y="849.4">17</text>
<text x="1433.0" y="849.4">19</text>
<text x="1534.0" y="849.4">23</text>
<text x="1626.0" y="849.4">25</text>
<text x="1719.5" y="849.4">28</text>
<text x="1819.0" y="849.4" font-weight="bold">Oct</text>
<text x="1912.0" y="849.4">3</text>
</g>
<g font-size="11.6" fill="#131722">
<text y="30.4" xml:space="preserve"><tspan x="17.90" textLength="75.20" lengthAdjust="spacingAndGlyphs">USD/JPY, 4h,</tspan> <tspan x="99.90" textLength="54.95" lengthAdjust="spacingAndGlyphs">O148.616</tspan> <tspan x="161.90" textLength="55.45" lengthAdjust="spacingAndGlyphs">H148.667</tspan> <tspan x="223.65" textLength="53.95" lengthAdjust="spacingAndGlyphs">L148.547</tspan> <tspan x="283.90" textLength="54.20" lengthAdjust="spacingAndGlyphs">C148.571</tspan> <tspan x="344.40" textLength="40.70" lengthAdjust="spacingAndGlyphs">−0.045</tspan> <tspan x="388.65" textLength="53.95" lengthAdjust="spacingAndGlyphs">(−0.03%)</tspan></text>
<text y="47.9" xml:space="preserve"><tspan x="18" textLength="63" lengthAdjust="spacingAndGlyphs">EMA Cross</tspan> <tspan x="87.6" fill="#089981" textLength="47.6" lengthAdjust="spacingAndGlyphs">148.869</tspan> <tspan x="142.6" fill="#f23645" textLength="45.4" lengthAdjust="spacingAndGlyphs">148.270</tspan></text>
</g>
</svg>
</body></html>
